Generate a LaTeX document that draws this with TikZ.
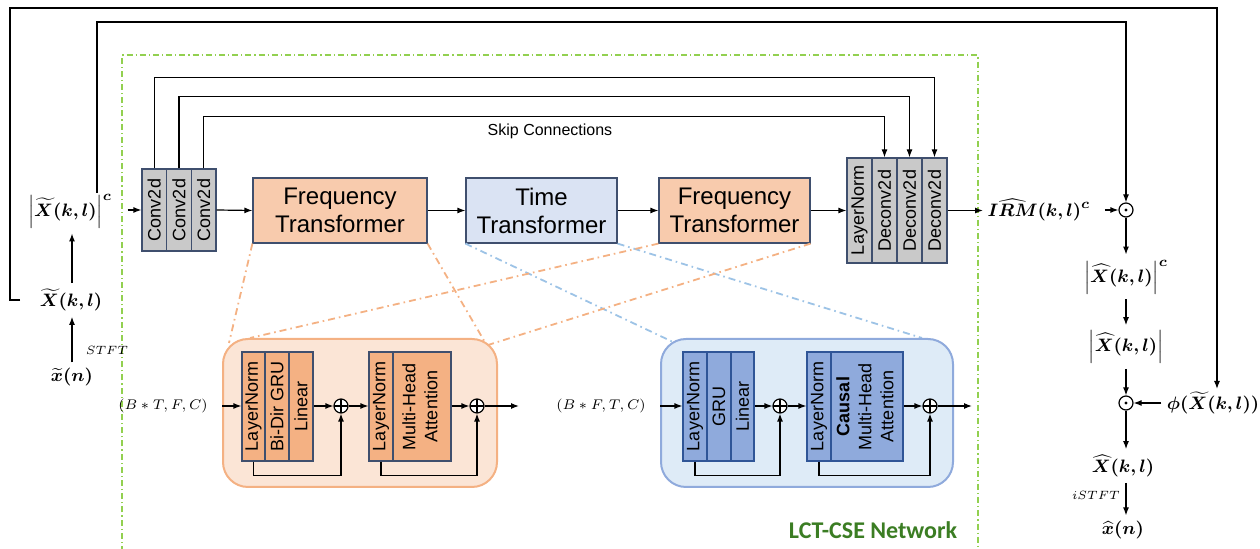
\documentclass[tikz,border=0pt]{standalone}
\usepackage{fontspec}
\usepackage{amsmath,bm}
\usepackage{graphicx}
\setsansfont{Liberation Sans}
\newfontfamily\carlito{Carlito}
\usetikzlibrary{arrows.meta}
\definecolor{edge}{HTML}{3F4F6E}
\definecolor{gfill}{HTML}{C9C9C9}
\definecolor{ftfill}{HTML}{F8CBAD}
\definecolor{ttfill}{HTML}{DAE3F3}
\definecolor{obg}{HTML}{FBE5D6}
\definecolor{oborder}{HTML}{F4B183}
\definecolor{ocol}{HTML}{F4B183}
\definecolor{bbg}{HTML}{DEEBF7}
\definecolor{bborder}{HTML}{8FAADC}
\definecolor{bcol}{HTML}{8FAADC}
\definecolor{bedge}{HTML}{2F5597}
\definecolor{odash}{HTML}{F4B183}
\definecolor{bdash}{HTML}{9DC3E6}
\definecolor{gdashc}{HTML}{92D050}
\definecolor{lctgreen}{HTML}{3B7D23}
\newcommand{\vtext}[1]{\rotatebox{90}{#1}}
\newcommand{\vstack}[1]{\rotatebox{90}{\begin{tabular}{@{}c@{}}#1\end{tabular}}}
\begin{document}
\begin{tikzpicture}[x=0.5pt,y=-0.5pt,line width=0.6pt,
  arr/.style={-{Latex[length=4pt,width=3pt]}},
  col/.style={draw=edge, line width=0.6pt, inner sep=0pt, font=\sffamily\fontsize{9}{11}\selectfont},
  gcol/.style={col, fill=gfill},
  ocolst/.style={col, fill=ocol},
  bcolst/.style={col, fill=bcol, draw=bedge},
  big/.style={draw=edge, line width=0.6pt, inner sep=0pt, align=center, font=\sffamily\fontsize{12}{14}\selectfont, minimum height=32.5pt},
  mlab/.style={inner sep=2.5pt, font=\fontsize{9.3}{11}\selectfont},
  slab/.style={inner sep=1pt, font=\fontsize{7.5}{9}\selectfont},
  tlab/.style={inner sep=1pt, font=\fontsize{6}{7}\selectfont},
  odotst/.style={draw, circle, fill=white, minimum size=7pt, inner sep=0pt},
  oplusst/.style={draw, circle, fill=white, minimum size=7pt, inner sep=0pt,
    path picture={\draw (path picture bounding box.north) -- (path picture bounding box.south)
      (path picture bounding box.west) -- (path picture bounding box.east);}},
  gdash/.style={draw=gdashc, line width=0.6pt, dash pattern=on 3pt off 1.5pt on 0.6pt off 1.5pt},
  odashst/.style={draw=odash, line width=0.9pt, dash pattern=on 3.5pt off 2pt on 0.8pt off 2pt},
  bdashst/.style={draw=bdash, line width=0.9pt, dash pattern=on 3.5pt off 2pt on 0.8pt off 2pt},
  obox/.style={draw=oborder, fill=obg, line width=1pt, rounded corners=12.5pt, minimum width=137pt, minimum height=74pt, inner sep=0pt},
  bbox/.style={draw=bborder, fill=bbg, line width=1pt, rounded corners=12.5pt, minimum width=146pt, minimum height=74pt, inner sep=0pt}
]
\useasboundingbox (0,0) rectangle (1260,549);

% green network frame
\draw[gdash] (122,552) -- (122,55) -- (978,55) -- (978,552);
\node[font=\carlito\bfseries\fontsize{12}{14}\selectfont, text=lctgreen] (lct) at (873,530) {LCT-CSE Network};

% encoder
\node[gcol, minimum width=12.3pt, minimum height=41pt] (c1) at (154.3,210) {\vtext{Conv2d}};
\node[gcol, minimum width=12.3pt, minimum height=41pt] (c2) at (179,210) {\vtext{Conv2d}};
\node[gcol, minimum width=12.3pt, minimum height=41pt] (c3) at (203.7,210) {\vtext{Conv2d}};

\node[big, fill=ftfill, minimum width=87pt] (ft1) at (340,210.5) {Frequency\\Transformer};
\node[big, fill=ttfill, minimum width=75.5pt] (tt) at (541.5,210.5) {Time\\Transformer};
\node[big, fill=ftfill, minimum width=75.5pt] (ft2) at (734.5,210.5) {Frequency\\Transformer};

% decoder
\node[gcol, minimum width=12.5pt, minimum height=52.5pt] (dln) at (859.5,210.5) {\vtext{LayerNorm}};
\node[gcol, minimum width=12.5pt, minimum height=52.5pt] (d1) at (884.5,210.5) {\vtext{Deconv2d}};
\node[gcol, minimum width=12.5pt, minimum height=52.5pt] (d2) at (909.5,210.5) {\vtext{Deconv2d}};
\node[gcol, minimum width=12.5pt, minimum height=52.5pt] (d3) at (934.5,210.5) {\vtext{Deconv2d}};

% skip connections
\draw[arr] (c1.north) -- ++(0,-91) -| (d3.north);
\draw[arr] (c2.north) -- ++(0,-72) -| (d2.north);
\draw[arr] (c3.north) -- ++(0,-52) -| (d1.north);
\node[font=\sffamily\fontsize{8}{10}\selectfont] (skip) at (550,131) {Skip Connections};

% main path
\draw[arr] (c3.east) -- (ft1.west);
\draw[arr] (ft1.east) -- (tt.west);
\draw[arr] (tt.east) -- (ft2.west);
\draw[arr] (ft2.east) -- (dln.west);

% left labels
\node[mlab] (absX) at (70,211) {$\left|\bm{\widetilde{X}(k,l)}\right|^{\bm{c}}$};
\node[mlab] (Xt) at (71,300) {$\bm{\widetilde{X}(k,l)}$};
\node[mlab] (xt) at (72,377) {$\bm{\widetilde{x}(n)}$};
\node[tlab] (stft) at (107,350) {$STFT$};
\draw[arr] (xt.north) -- (xt.north |- Xt.south);
\draw[arr] (Xt.north -| xt) -- (xt |- absX.south);
\draw[arr, shorten <=5pt] (absX.east |- c1) -- (c1.west);

% right labels
\node[mlab, inner sep=2pt] (irm) at (1039,210) {$\bm{\widehat{IRM}(k,l)^{c}}$};
\node[odotst] (m1) at (1126,210) {};
\fill (m1) circle (0.8pt);
\node[mlab] (absXh) at (1126,277) {$\left|\bm{\widehat{X}(k,l)}\right|^{\bm{c}}$};
\node[mlab] (absXh2) at (1126,347) {$\left|\bm{\widehat{X}(k,l)}\right|$};
\node[odotst] (m2) at (1126,403) {};
\fill (m2) circle (0.8pt);
\node[mlab] (phi) at (1213,403) {$\bm{\phi(\widetilde{X}(k,l))}$};
\node[mlab] (Xh) at (1123,466) {$\bm{\widehat{X}(k,l)}$};
\node[mlab] (xh) at (1123,530) {$\bm{\widehat{x}(n)}$};
\node[tlab] (istft) at (1096,495) {$iSTFT$};

\draw[arr] (d3.east) -- (irm.west |- d3.east);
\draw[arr, shorten <=5pt] (irm.east |- m1) -- (m1.west);
\draw[arr] (m1.south) -- (m1.south |- absXh.north);
\draw[arr] (absXh.south) -- (absXh.south |- absXh2.north);
\draw[arr] (absXh2.south) -- (m2.north);
\draw[arr] (phi.west) -- (m2.east);
\draw[arr] (m2.south) -- (m2.south |- Xh.north);
\draw[arr] (Xh.south -| m2) -- (m2 |- xh.north);

% feedback lines
\coordinate (fbA) at (97,193);
\coordinate (fbB) at (97,22);
\coordinate (fbC) at (1126,22);
\draw[arr] (fbA) -- (fbB) -- (fbC) -- (m1.north);
\coordinate (obA) at (10,300);
\coordinate (obB) at (10,8);
\coordinate (obC) at (1217,8);
\coordinate (obD) at (1217,389);
\draw[arr] ([xshift=-7pt]Xt.west) -- (obA) -- (obB) -- (obC) -- (obD);

% zoom indicator lines
\coordinate (oz1) at (229,343);
\coordinate (oz2) at (486,344);
\coordinate (oz3) at (250,338);
\coordinate (oz4) at (488,345);
\coordinate (bz1) at (673,342);
\coordinate (bz2) at (922,338);
\draw[bdashst] (tt.south west) -- (bz1);
\draw[bdashst] (tt.south east) -- (bz2);
\draw[odashst] (ft1.south west) -- (oz1);
\draw[odashst] (ft1.south east) -- (oz2);
\draw[odashst] (ft2.south west) -- (oz3);
\draw[odashst] (ft2.south east) -- (oz4);

% frequency transformer detail
\node[obox] (ob) at (360,413) {};
\node[ocolst, minimum width=11.5pt, minimum height=54.5pt] (oln1) at (253.5,406.5) {\vtext{LayerNorm}};
\node[ocolst, minimum width=12pt, minimum height=54.5pt] (ogru) at (277,406.5) {\vtext{Bi-Dir GRU}};
\node[ocolst, minimum width=12pt, minimum height=54.5pt] (olin) at (301,406.5) {\vtext{Linear}};
\node[ocolst, minimum width=12pt, minimum height=54.5pt] (oln2) at (381,406.5) {\vtext{LayerNorm}};
\node[ocolst, minimum width=29pt, minimum height=54.5pt] (omha) at (422,406.5) {\vstack{Multi-Head\\Attention}};
\node[oplusst] (op1) at (341,406) {};
\node[oplusst] (op2) at (477,406) {};
\node[slab] (inO) at (163,406) {$(B*T,F,C)$};
\coordinate (outO) at (519,406);
\draw[arr, shorten <=6pt] (inO.east) -- (oln1.west |- inO.east);
\draw[arr] (olin.east |- op1) -- (op1.west);
\draw[arr] (op1.east) -- (oln2.west |- op1);
\draw[arr] (omha.east |- op2) -- (op2.west);
\draw[arr] (op2.east) -- (outO);
\draw[arr] (oln1.south) -- ++(0,14) -| (op1.south);
\draw[arr] (oln2.south) -- ++(0,14) -| (op2.south);

% time transformer detail
\node[bbox] (bb) at (807,413) {};
\node[bcolst, minimum width=12pt, minimum height=54.5pt] (bln1) at (695,406.5) {\vtext{LayerNorm}};
\node[bcolst, minimum width=12pt, minimum height=54.5pt] (bgru) at (719,406.5) {\vtext{GRU}};
\node[bcolst, minimum width=11.5pt, minimum height=54.5pt] (blin) at (742.5,406.5) {\vtext{Linear}};
\node[bcolst, minimum width=12pt, minimum height=54.5pt] (bln2) at (819,406.5) {\vtext{LayerNorm}};
\node[bcolst, minimum width=36pt, minimum height=54.5pt] (bmha) at (867,406.5) {\vstack{\textbf{Causal}\\Multi-Head\\Attention}};
\node[oplusst] (bp1) at (780,406) {};
\node[oplusst] (bp2) at (930,406) {};
\node[slab] (inB) at (601,406) {$(B*F,T,C)$};
\coordinate (outB) at (972,406);
\draw[arr, shorten <=6pt] (inB.east) -- (bln1.west |- inB.east);
\draw[arr] (blin.east |- bp1) -- (bp1.west);
\draw[arr] (bp1.east) -- (bln2.west |- bp1);
\draw[arr] (bmha.east |- bp2) -- (bp2.west);
\draw[arr] (bp2.east) -- (outB);
\draw[arr] (bln1.south) -- ++(0,14) -| (bp1.south);
\draw[arr] (bln2.south) -- ++(0,14) -| (bp2.south);
\end{tikzpicture}
\end{document}
